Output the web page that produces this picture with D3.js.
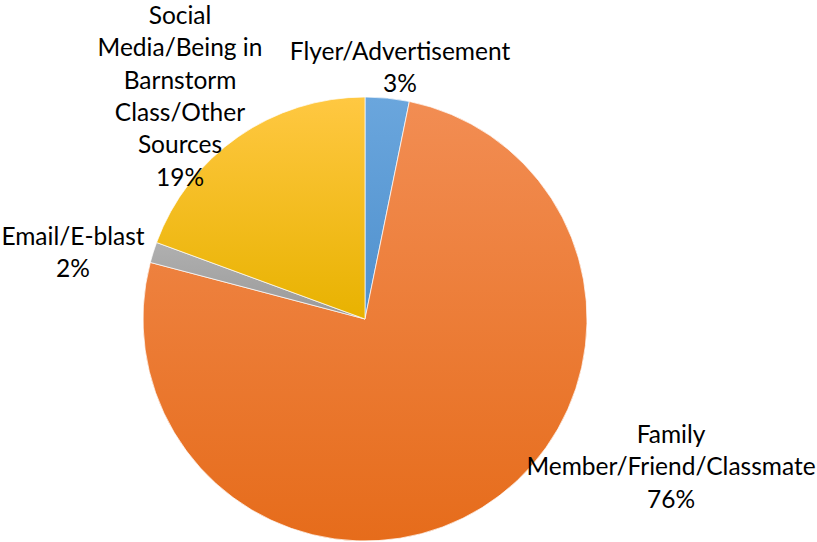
<!DOCTYPE html>
<html>
<head>
<meta charset="utf-8">
<script src="https://cdn.jsdelivr.net/npm/d3@7"></script>
<style>
  body { margin: 0; background: #fff; }
  text { font-family: Lato, "Open Sans", sans-serif; fill: #000; }
</style>
</head>
<body>
<div id="chart"></div>
<script>
var width = 817, height = 542;

// data
var categories = ["Flyer/Advertisement", "Family Member/Friend/Classmate", "Email/E-blast", "Social Media/Being in Barnstorm Class/Other Sources"];
var values = [3.2, 75.9, 1.5, 19.4];
var labelLines = [
  ["Flyer/Advertisement"],
  ["Family", "Member/Friend/Classmate"],
  ["Email/E-blast"],
  ["Social", "Media/Being in", "Barnstorm", "Class/Other", "Sources"]
];

// colours (top, bottom of gradient)
var colors = [["#6aa6dd", "#4f90cd"], ["#f28d53", "#e66c1b"], ["#b0b0b0", "#999999"], ["#ffc842", "#e8b200"]];
// label centres (x, y of first baseline)
var labelPos = [[400, 60], [671, 443], [73, 245], [180, 24]];

var cx = 365, cy = 319, r = 222;
var lineH = 32.3;

var svg = d3.select("#chart").append("svg")
  .attr("width", width)
  .attr("height", height);

var defs = svg.append("defs");
colors.forEach(function(c, i) {
  var g = defs.append("linearGradient")
    .attr("id", "grad" + i)
    .attr("x1", 0).attr("y1", 0).attr("x2", 0).attr("y2", 1);
  g.append("stop").attr("offset", "0%").attr("stop-color", c[0]);
  g.append("stop").attr("offset", "100%").attr("stop-color", c[1]);
});

var pie = d3.pie().sort(null).value(function(d) { return d; });
var arc = d3.arc().innerRadius(0).outerRadius(r);

var g = svg.append("g").attr("transform", "translate(" + cx + "," + cy + ")");

g.selectAll(".slice")
  .data(pie(values))
  .enter().append("path")
    .attr("class", "slice")
    .attr("d", arc)
    .attr("fill", function(d, i) { return "url(#grad" + i + ")"; })
    .attr("stroke", "#fff")
    .attr("stroke-width", 0.7);

var total = d3.sum(values);

var labels = svg.selectAll(".label")
  .data(categories)
  .enter().append("text")
    .attr("class", "label")
    .attr("text-anchor", "middle")
    .style("font-size", "24.5px");

labels.each(function(d, i) {
  var t = d3.select(this);
  var lines = labelLines[i].concat([Math.round(values[i] / total * 100) + "%"]);
  lines.forEach(function(l, j) {
    t.append("tspan")
      .attr("x", labelPos[i][0])
      .attr("y", labelPos[i][1] + j * lineH)
      .text(l);
  });
});
</script>
</body>
</html>
